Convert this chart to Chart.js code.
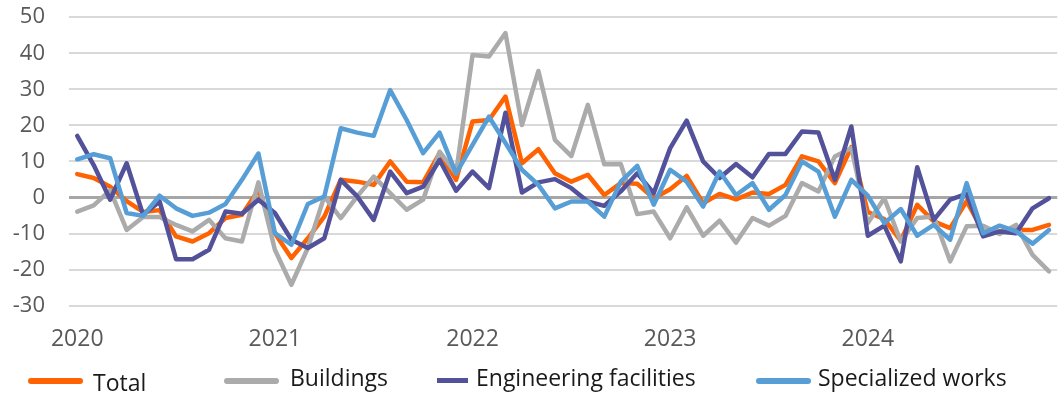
<!DOCTYPE html>
<html lang="en">
<head>
    <meta charset="UTF-8">
    <title>Construction output by segment</title>
    <script src="https://cdn.jsdelivr.net/npm/chart.js"></script>
    <style>
        html, body {
            margin: 0;
            padding: 0;
            background: #fff;
        }
        .wrap {
            position: relative;
            width: 1061px;
            height: 395px;
            overflow: hidden;
        }
        .chart-box {
            position: absolute;
            left: 0;
            top: -20px;
            width: 1069px;
            height: 415px;
        }
        .legend-item {
            position: absolute;
            font-family: "Open Sans", sans-serif;
            font-size: 23px;
            color: #1a1a1a;
            white-space: nowrap;
            line-height: 1;
        }
        .legend-line {
            position: absolute;
            height: 6px;
            border-radius: 3px;
        }
    </style>
</head>
<body>
    <div class="wrap">
        <div class="chart-box">
            <canvas id="chart" width="1069" height="415"></canvas>
        </div>
        <!-- legend, placed like the excel original -->
        <div class="legend-line" style="left:28px; top:378px; width:55px; background:#ff6200;"></div>
        <div class="legend-item" style="left:93px; top:371px;">Total</div>
        <div class="legend-line" style="left:224px; top:378px; width:55px; background:#ababab;"></div>
        <div class="legend-item" style="left:290px; top:366px;">Buildings</div>
        <div class="legend-line" style="left:437px; top:378px; width:31px; height:5px; border-radius:0; background:#52519a;"></div>
        <div class="legend-item" style="left:476px; top:366px;">Engineering facilities</div>
        <div class="legend-line" style="left:756px; top:378px; width:55px; background:#579ed6;"></div>
        <div class="legend-item" style="left:818px; top:366px;">Specialized works</div>
    </div>

    <script>
        // months Jan 2020 .. Dec 2024
        const years = ['2020', '2021', '2022', '2023', '2024'];
        const months = [];
        years.forEach(y => {
            for (let m = 1; m <= 12; m++) months.push(y + '-' + String(m).padStart(2, '0'));
        });

        const total = [
            6.5, 5.4, 3.0, -1.0, -4.0, -3.5, -10.8, -12.2, -9.9, -5.7, -4.8, 2.1,
            -9.9, -16.8, -11.3, -5.3, 4.9, 4.4, 3.5, 10.0, 4.4, 4.2, 12.3, 4.9,
            21.1, 21.5, 28.0, 9.5, 13.4, 6.7, 4.4, 6.3, 0.7, 4.0, 3.8, -0.2,
            2.3, 6.0, -1.6, 1.0, -0.5, 1.4, 1.0, 3.5, 11.4, 10.0, 4.0, 14.0,
            -4.0, -6.0, -12.0, -2.0, -6.6, -8.5, -1.0, -9.5, -9.4, -9.0, -9.0, -7.6
        ];
        const buildings = [
            -3.9, -2.2, 2.0, -9.0, -5.4, -5.4, -7.6, -9.4, -6.2, -11.3, -12.2, 4.2,
            -14.5, -24.2, -14.0, 0.3, -5.7, 0.3, 5.8, 1.2, -3.4, -0.6, 12.7, 6.7,
            39.5, 39.1, 45.6, 20.1, 35.1, 16.0, 11.5, 25.7, 9.2, 9.3, -4.6, -3.9,
            -11.3, -2.7, -10.6, -6.4, -12.5, -5.7, -7.8, -5.1, 4.0, 1.7, 11.4, 13.7,
            -7.1, -0.2, -12.2, -5.7, -5.3, -17.7, -8.0, -7.8, -10.1, -7.6, -15.9, -20.5
        ];
        const engineering = [
            17.1, 9.0, -0.6, 9.5, -4.8, -1.1, -17.1, -17.1, -14.5, -3.9, -4.5, -0.6,
            -4.3, -11.7, -14.0, -11.3, 4.9, 0.3, -6.2, 7.2, 1.2, 3.0, 10.4, 1.9,
            7.2, 2.6, 23.5, 1.4, 4.2, 5.1, 2.6, -1.1, -2.3, 1.7, 6.7, 1.2,
            13.7, 21.3, 10.0, 5.4, 9.3, 5.6, 12.1, 12.1, 18.3, 18.0, 4.9, 19.7,
            -10.6, -7.8, -17.7, 8.4, -6.2, -0.6, 1.0, -10.8, -9.4, -9.9, -3.0, -0.2
        ];
        const specialized = [
            10.6, 12.0, 10.9, -4.3, -5.1, 0.5, -3.0, -5.1, -4.2, -1.8, 4.9, 12.2,
            -9.9, -13.1, -1.8, 0.3, 19.2, 18.0, 17.1, 29.8, 21.5, 12.3, 18.0, 6.7,
            14.6, 22.4, 15.1, 7.7, 3.5, -3.0, -1.1, -1.1, -5.3, 4.4, 8.8, -2.0,
            7.7, 4.4, -2.5, 7.2, 0.7, 4.0, -3.4, 0.7, 10.0, 7.2, -5.3, 4.9,
            0.5, -7.1, -3.2, -10.6, -7.6, -11.7, 4.0, -9.9, -7.8, -9.4, -12.8, -9.0
        ];
        const yTicks = [-30, -20, -10, 0, 10, 20, 30, 40, 50];

        function series(label, data, color, order) {
            return {
                label: label,
                data: data,
                borderColor: color,
                backgroundColor: color,
                borderWidth: 4.5,
                pointRadius: 0,
                tension: 0,
                borderJoinStyle: 'round',
                borderCapStyle: 'round',
                order: order
            };
        }

        const ctx = document.getElementById('chart').getContext('2d');
        new Chart(ctx, {
            type: 'line',
            data: {
                labels: months,
                datasets: [
                    series('Total', total, '#ff6200', 4),
                    series('Buildings', buildings, '#ababab', 3),
                    series('Engineering facilities', engineering, '#52519a', 2),
                    series('Specialized works', specialized, '#579ed6', 1)
                ]
            },
            options: {
                responsive: false,
                animation: false,
                layout: { padding: { top: 16, right: 0, bottom: 0, left: 0 } },
                plugins: {
                    legend: { display: false },
                    tooltip: { enabled: false }
                },
                scales: {
                    x: {
                        offset: true,
                        grid: { display: false, drawTicks: false },
                        border: { display: false },
                        afterFit: s => { s.height = 89.3; },
                        ticks: {
                            autoSkip: false,
                            maxRotation: 0,
                            padding: 20,
                            color: '#595959',
                            font: { family: 'Open Sans', size: 23 },
                            callback: function(v, i) {
                                return i % 12 === 0 ? months[i].slice(0, 4) : '';
                            }
                        }
                    },
                    y: {
                        min: -30,
                        max: 50,
                        afterFit: s => { s.width = 69; },
                        afterBuildTicks: s => { s.ticks = yTicks.map(v => ({ value: v })); },
                        border: { display: false },
                        grid: {
                            drawTicks: false,
                            color: c => c.tick && c.tick.value === 0 ? '#a6a6a6' : '#d9d9d9',
                            lineWidth: c => c.tick && c.tick.value === 0 ? 3 : 2
                        },
                        ticks: {
                            padding: 24,
                            color: '#595959',
                            font: { family: 'Open Sans', size: 22 }
                        }
                    }
                }
            }
        });
    </script>
</body>
</html>
